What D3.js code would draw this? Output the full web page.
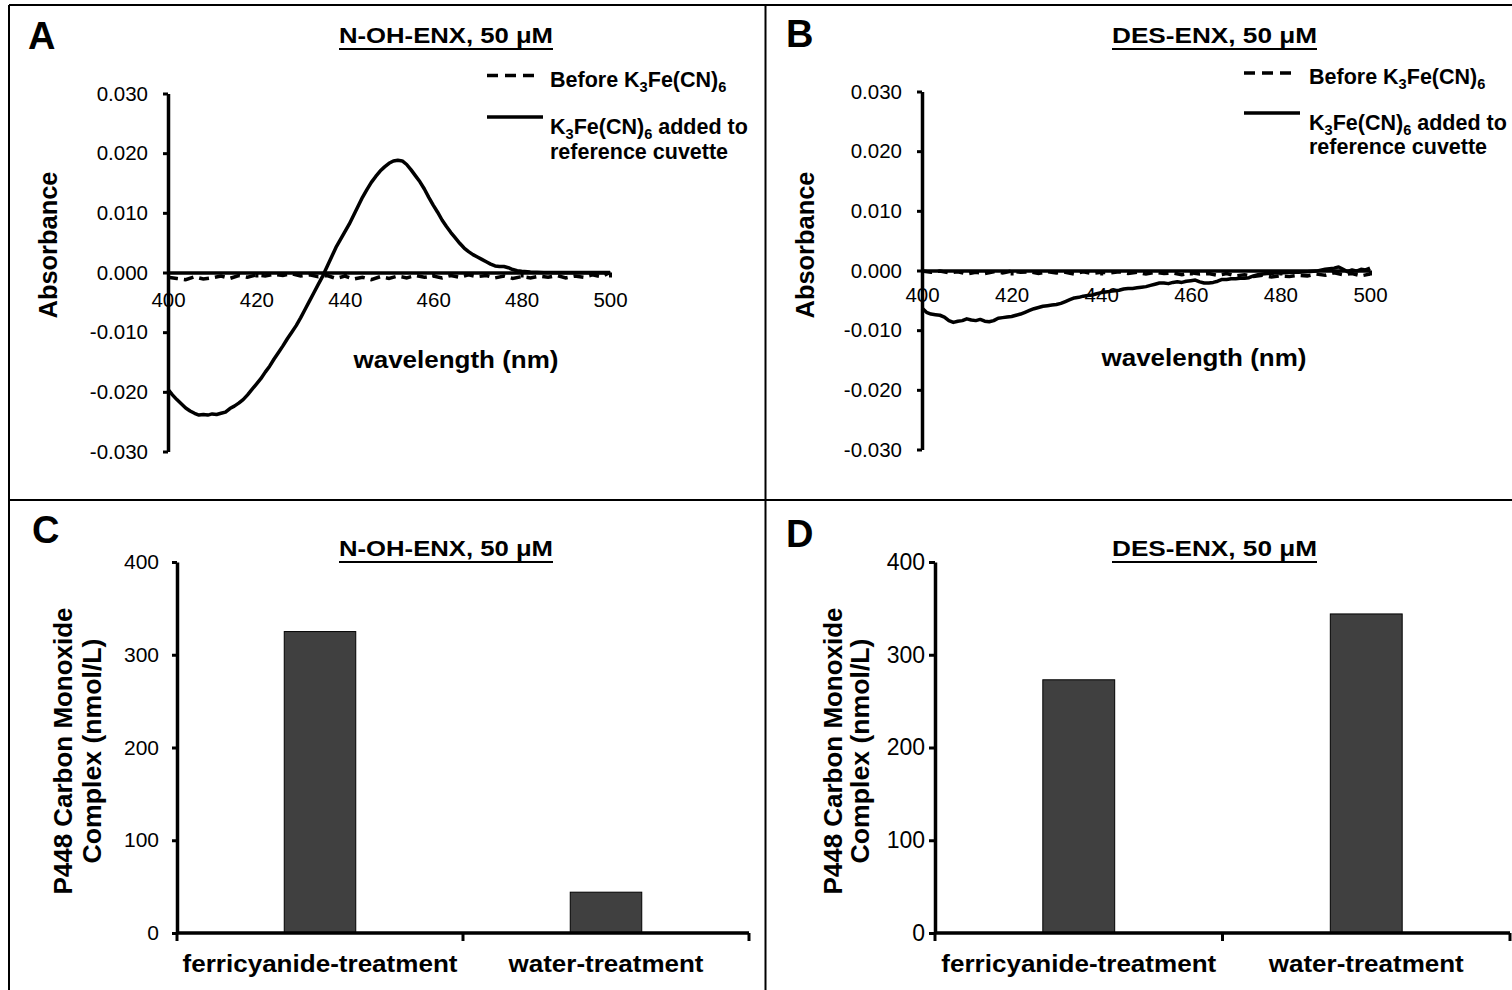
<!DOCTYPE html>
<html>
<head>
<meta charset="utf-8">
<script src="https://cdn.jsdelivr.net/npm/d3@7"></script>
<style>
  html, body { margin: 0; padding: 0; background: #fff; }
  svg { display: block; }
  text { font-family: "Liberation Sans", Arial, Helvetica, sans-serif; fill: #000; }
</style>
</head>
<body>
<script>
// ---------------- DATA ----------------
const absTicks = [-0.03, -0.02, -0.01, 0, 0.01, 0.02, 0.03];
const nmTicks = [400, 420, 440, 460, 480, 500];
const barTicks = [0, 100, 200, 300, 400];
const categories = ["ferricyanide-treatment", "water-treatment"];

// Panel A: N-OH-ENX  [wavelength nm, absorbance]
const solidA = [
  [400,-0.0196],[401,-0.0205],[402,-0.0213],[403,-0.0220],[404,-0.0227],[405,-0.0232],
  [406,-0.0236],[407,-0.0239],[408,-0.0238],[409,-0.0239],[410,-0.0237],[411,-0.0238],
  [412,-0.0236],[413,-0.0234],[414,-0.0228],[415,-0.0224],[416,-0.0219],[417,-0.0213],
  [418,-0.0205],[419,-0.0196],[420,-0.0187],[421,-0.0178],[422,-0.0167],[423,-0.0157],
  [424,-0.0145],[425,-0.0134],[426,-0.0123],[427,-0.0111],[428,-0.0100],[429,-0.0089],
  [430,-0.0076],[431,-0.0062],[432,-0.0048],[433,-0.0034],[434,-0.0020],[435,-0.0006],
  [436,0.0010],[437,0.0026],[438,0.0042],[439,0.0055],[440,0.0068],[441,0.0081],
  [442,0.0096],[443,0.0111],[444,0.0126],[445,0.0139],[446,0.0151],[447,0.0161],
  [448,0.0170],[449,0.0177],[450,0.0183],[451,0.0187],[452,0.0188],[453,0.0187],
  [454,0.0181],[455,0.0172],[456,0.0162],[457,0.0152],[458,0.0140],[459,0.0126],
  [460,0.0113],[461,0.0101],[462,0.0088],[463,0.0077],[464,0.0067],[465,0.0058],
  [466,0.0049],[467,0.0041],[468,0.0035],[469,0.0030],[470,0.0026],[471,0.0022],
  [472,0.0018],[473,0.0014],[474,0.0011],[475,0.0010],[476,0.0010],[477,0.0008],
  [478,0.0005],[479,0.0003],[480,0.0002],[482,0.0001],[485,0.0000],[490,0.0000],
  [495,0.0000],[500,0.0000]
];
const dashedA = [
  [400,-0.0008],[402,-0.0010],[404,-0.0012],[406,-0.0007],[408,-0.0011],[410,-0.0009],
  [412,-0.0006],[414,-0.0010],[416,-0.0005],[418,-0.0008],[420,-0.0004],[422,-0.0006],
  [424,-0.0003],[426,-0.0005],[428,-0.0002],[430,-0.0006],[432,-0.0004],[434,-0.0007],
  [436,-0.0005],[438,-0.0010],[440,-0.0006],[442,-0.0011],[444,-0.0008],[446,-0.0012],
  [448,-0.0007],[450,-0.0010],[452,-0.0006],[454,-0.0009],[456,-0.0005],[458,-0.0008],
  [460,-0.0006],[462,-0.0009],[464,-0.0005],[466,-0.0008],[468,-0.0004],[470,-0.0007],
  [472,-0.0005],[474,-0.0009],[476,-0.0006],[478,-0.0010],[480,-0.0007],[482,-0.0009],
  [484,-0.0006],[486,-0.0008],[488,-0.0005],[490,-0.0009],[492,-0.0006],[494,-0.0008],
  [496,-0.0004],[498,-0.0007],[500,0.0000]
];

// Panel B: DES-ENX
const solidB = [
  [400,-0.0063],[401,-0.0070],[402,-0.0073],[403,-0.0074],[404,-0.0075],[405,-0.0078],
  [406,-0.0084],[407,-0.0087],[408,-0.0085],[409,-0.0084],[410,-0.0081],[411,-0.0083],
  [412,-0.0084],[413,-0.0082],[414,-0.0085],[415,-0.0086],[416,-0.0084],[417,-0.0080],
  [418,-0.0079],[419,-0.0078],[420,-0.0077],[421,-0.0075],[422,-0.0073],[423,-0.0070],
  [424,-0.0067],[425,-0.0064],[426,-0.0062],[427,-0.0060],[428,-0.0059],[429,-0.0058],
  [430,-0.0057],[431,-0.0055],[432,-0.0052],[433,-0.0049],[434,-0.0046],[435,-0.0045],
  [436,-0.0043],[437,-0.0042],[438,-0.0041],[439,-0.0039],[440,-0.0037],[441,-0.0036],
  [442,-0.0035],[443,-0.0034],[444,-0.0033],[445,-0.0031],[446,-0.0030],[447,-0.0030],
  [448,-0.0029],[449,-0.0028],[450,-0.0027],[451,-0.0025],[452,-0.0023],[453,-0.0021],
  [454,-0.0021],[455,-0.0022],[456,-0.0020],[457,-0.0019],[458,-0.0020],[459,-0.0018],
  [460,-0.0017],[461,-0.0016],[462,-0.0019],[463,-0.0021],[464,-0.0021],[465,-0.0020],
  [466,-0.0018],[467,-0.0015],[468,-0.0015],[469,-0.0014],[470,-0.0014],[471,-0.0013],
  [472,-0.0013],[473,-0.0012],[474,-0.0009],[475,-0.0007],[476,-0.0006],[477,-0.0005],
  [478,-0.0005],[479,-0.0004],[480,-0.0004],[482,-0.0003],[484,-0.0003],[486,-0.0002],
  [488,-0.0001],[490,0.0002],[492,0.0004],[493,0.0006],[494,0.0002],[495,-0.0002],
  [496,0.0001],[497,-0.0001],[498,0.0002],[499,0.0001],[500,0.0004]
];
const dashedB = [
  [400,-0.0001],[402,-0.0003],[404,-0.0001],[406,-0.0004],[408,-0.0002],[410,-0.0006],
  [412,-0.0003],[414,-0.0005],[416,-0.0002],[418,-0.0004],[420,-0.0001],[422,-0.0003],
  [424,-0.0002],[426,-0.0005],[428,-0.0002],[430,-0.0004],[432,-0.0003],[434,-0.0006],
  [436,-0.0002],[438,-0.0005],[440,-0.0003],[442,-0.0004],[444,-0.0002],[446,-0.0005],
  [448,-0.0003],[450,-0.0006],[452,-0.0003],[454,-0.0005],[456,-0.0004],[458,-0.0007],
  [460,-0.0004],[462,-0.0006],[464,-0.0005],[466,-0.0008],[468,-0.0005],[470,-0.0009],
  [472,-0.0007],[474,-0.0010],[476,-0.0008],[478,-0.0011],[480,-0.0009],[482,-0.0010],
  [484,-0.0008],[486,-0.0009],[488,-0.0006],[490,-0.0008],[492,-0.0004],[494,-0.0007],
  [496,-0.0005],[498,-0.0009],[500,-0.0006]
];

// Panels C & D: P448 CO complex (nmol/L)
const barsC = [325, 44];
const barsD = [273, 344];

// ---------------- DRAWING ----------------
const W = 1512, H = 990;
const FONT = '"Liberation Sans", Arial, Helvetica, sans-serif';
const svg = d3.select("body").append("svg").attr("width", W).attr("height", H);

// frame
const frame = svg.append("g").attr("stroke", "#000").attr("stroke-width", 2).attr("fill", "none");
frame.append("line").attr("x1", 9).attr("x2", 9).attr("y1", 5).attr("y2", H);
frame.append("line").attr("x1", 9).attr("x2", W).attr("y1", 5).attr("y2", 5);
frame.append("line").attr("x1", 765.5).attr("x2", 765.5).attr("y1", 5).attr("y2", H);
frame.append("line").attr("x1", 9).attr("x2", W).attr("y1", 500).attr("y2", 500);

function panelLetter(t, x, y) {
  svg.append("text").attr("x", x).attr("y", y).attr("font-size", 38).attr("font-weight", "bold").text(t);
}
function title(t, x, y, len) {
  svg.append("text").attr("x", x).attr("y", y).attr("font-size", 22).attr("font-weight", "bold")
    .attr("textLength", len).attr("lengthAdjust", "spacingAndGlyphs").text(t);
  svg.append("line").attr("x1", x).attr("x2", x + len).attr("y1", y + 6).attr("y2", y + 6)
    .attr("stroke", "#000").attr("stroke-width", 2);
}
function styleAxis(g, sw, fs) {
  g.selectAll("path.domain").attr("stroke", "#000").attr("stroke-width", sw);
  g.selectAll(".tick line").attr("stroke", "#000").attr("stroke-width", 3);
  g.selectAll(".tick text").attr("font-size", fs || 20).attr("font-family", FONT).attr("fill", "#000");
}
function subText(sel, parts) {
  let prevSub = false;
  parts.forEach(([t, sub]) => {
    const ts = sel.append("tspan").text(t);
    if (sub && !prevSub) ts.attr("dy", 5).attr("font-size", "0.68em");
    else if (!sub && prevSub) ts.attr("dy", -5);
    else if (sub) ts.attr("font-size", "0.68em");
    prevSub = sub;
  });
}

function spectrum(cfg) {
  const x = d3.scaleLinear().domain([400, 500]).range([cfg.x0, cfg.x1]);
  const y = d3.scaleLinear().domain([-0.03, 0.03]).range([cfg.yBot, cfg.yTop]);

  const gy = svg.append("g").attr("transform", `translate(${cfg.x0},0)`)
    .call(d3.axisLeft(y).tickValues(absTicks).tickSizeInner(5).tickSizeOuter(0).tickPadding(15)
      .tickFormat(d => d.toFixed(3)));
  styleAxis(gy, 3.5, 20.5);

  const gx = svg.append("g").attr("transform", `translate(0,${y(0)})`)
    .call(d3.axisBottom(x).tickValues(nmTicks).tickSizeInner(5).tickSizeOuter(0).tickPadding(cfg.xPad)
      .tickFormat(d3.format("d")));
  styleAxis(gx, 3.5, 20.5);

  const line = d3.line().x(d => x(d[0])).y(d => y(d[1]));
  svg.append("path").datum(cfg.dashed).attr("d", line).attr("fill", "none")
    .attr("stroke", "#000").attr("stroke-width", 3.5).attr("stroke-dasharray", "10,6");
  svg.append("path").datum(cfg.solid).attr("d", line).attr("fill", "none")
    .attr("stroke", "#000").attr("stroke-width", 3.5).attr("stroke-linejoin", "round");

  svg.append("text").attr("x", cfg.xlabX).attr("y", cfg.xlabY).attr("text-anchor", "middle")
    .attr("font-size", 23).attr("font-weight", "bold")
    .attr("textLength", 205).attr("lengthAdjust", "spacingAndGlyphs").text("wavelength (nm)");
  svg.append("text").attr("transform", `translate(${cfg.ylabX},${cfg.ylabY}) rotate(-90)`)
    .attr("text-anchor", "middle").attr("font-size", 25).attr("font-weight", "bold")
    .attr("textLength", 147).attr("lengthAdjust", "spacingAndGlyphs").text("Absorbance");

  const L = cfg.leg;
  svg.append("line").attr("x1", L.lx0).attr("x2", L.lx0 + 48).attr("y1", L.y1).attr("y2", L.y1)
    .attr("stroke", "#000").attr("stroke-width", 3.5).attr("stroke-dasharray", "11,7");
  svg.append("line").attr("x1", L.lx0).attr("x2", L.lx0 + 56).attr("y1", L.y2).attr("y2", L.y2)
    .attr("stroke", "#000").attr("stroke-width", 3.5);
  const t1 = svg.append("text").attr("x", L.tx).attr("y", L.b1).attr("font-size", 21.5).attr("font-weight", "bold");
  subText(t1, [["Before K", false], ["3", true], ["Fe(CN)", false], ["6", true]]);
  const t2 = svg.append("text").attr("x", L.tx).attr("y", L.b2).attr("font-size", 21.5).attr("font-weight", "bold");
  subText(t2, [["K", false], ["3", true], ["Fe(CN)", false], ["6", true], [" added to", false]]);
  svg.append("text").attr("x", L.tx).attr("y", L.b3).attr("font-size", 21.5).attr("font-weight", "bold")
    .text("reference cuvette");
}

function bars(cfg) {
  const x = d3.scaleBand().domain(categories).range([cfg.x0, cfg.x1]).padding(0);
  const y = d3.scaleLinear().domain([0, 400]).range([cfg.yBot, cfg.yTop]);
  const bw = x.bandwidth() * 0.25;

  svg.append("g").selectAll("rect").data(cfg.values).join("rect")
    .attr("x", (d, i) => x(categories[i]) + x.bandwidth() / 2 - bw / 2)
    .attr("y", d => y(d))
    .attr("width", bw)
    .attr("height", d => y(0) - y(d))
    .attr("fill", "#404040").attr("stroke", "#000").attr("stroke-width", 1);

  const gy = svg.append("g").attr("transform", `translate(${cfg.x0},0)`)
    .call(d3.axisLeft(y).tickValues(barTicks).tickSizeInner(cfg.tickLen).tickSizeOuter(0).tickPadding(cfg.tickPad));
  styleAxis(gy, 3.5, cfg.tickFs);

  const gx = svg.append("g");
  gx.append("line").attr("x1", cfg.x0).attr("x2", cfg.x1).attr("y1", y(0)).attr("y2", y(0))
    .attr("stroke", "#000").attr("stroke-width", 3.5);
  const bounds = categories.map(c => x(c)).concat([x.range()[1]]);
  gx.selectAll("line.tk").data(bounds).join("line").attr("class", "tk")
    .attr("x1", d => d).attr("x2", d => d).attr("y1", y(0)).attr("y2", y(0) + 8)
    .attr("stroke", "#000").attr("stroke-width", 3);
  const lens = [275, 195];
  gx.selectAll("text").data(categories).join("text")
    .attr("x", d => x(d) + x.bandwidth() / 2).attr("y", 972)
    .attr("text-anchor", "middle").attr("font-size", 24).attr("font-weight", "bold")
    .attr("textLength", (d, i) => lens[i]).attr("lengthAdjust", "spacingAndGlyphs")
    .text(d => d);

  svg.append("text").attr("transform", `translate(${cfg.yl1},751) rotate(-90)`)
    .attr("text-anchor", "middle").attr("font-size", 26).attr("font-weight", "bold")
    .attr("textLength", 287).attr("lengthAdjust", "spacingAndGlyphs").text("P448 Carbon Monoxide");
  svg.append("text").attr("transform", `translate(${cfg.yl2},751) rotate(-90)`)
    .attr("text-anchor", "middle").attr("font-size", 26).attr("font-weight", "bold")
    .attr("textLength", 225).attr("lengthAdjust", "spacingAndGlyphs").text("Complex (nmol/L)");
}

// Panel A
panelLetter("A", 28, 49);
title("N-OH-ENX, 50 \u03BCM", 339, 43, 214);
spectrum({
  x0: 168, x1: 610, yTop: 93.5, yBot: 451.5, xPad: 15,
  solid: solidA, dashed: dashedA,
  xlabX: 456, xlabY: 368, ylabX: 57, ylabY: 245,
  leg: { lx0: 487, y1: 75.5, y2: 117, tx: 550, b1: 87, b2: 134, b3: 159 }
});

// Panel B
panelLetter("B", 786, 47);
title("DES-ENX, 50 \u03BCM", 1112, 43, 205);
spectrum({
  x0: 922, x1: 1370, yTop: 91.5, yBot: 449.5, xPad: 12,
  solid: solidB, dashed: dashedB,
  xlabX: 1204, xlabY: 366, ylabX: 814, ylabY: 245,
  leg: { lx0: 1244, y1: 73, y2: 113, tx: 1309, b1: 84, b2: 130, b3: 154 }
});

// Panel C
panelLetter("C", 32, 543);
title("N-OH-ENX, 50 \u03BCM", 339, 556, 214);
bars({ x0: 177, x1: 749, yTop: 562, yBot: 933, values: barsC, yl1: 72, yl2: 101,
       tickLen: 5, tickPad: 13, tickFs: 21 });

// Panel D
panelLetter("D", 786, 547);
title("DES-ENX, 50 \u03BCM", 1112, 556, 205);
bars({ x0: 935, x1: 1510, yTop: 562, yBot: 933, values: barsD, yl1: 842, yl2: 869,
       tickLen: 6, tickPad: 4, tickFs: 23 });
</script>
</body>
</html>
